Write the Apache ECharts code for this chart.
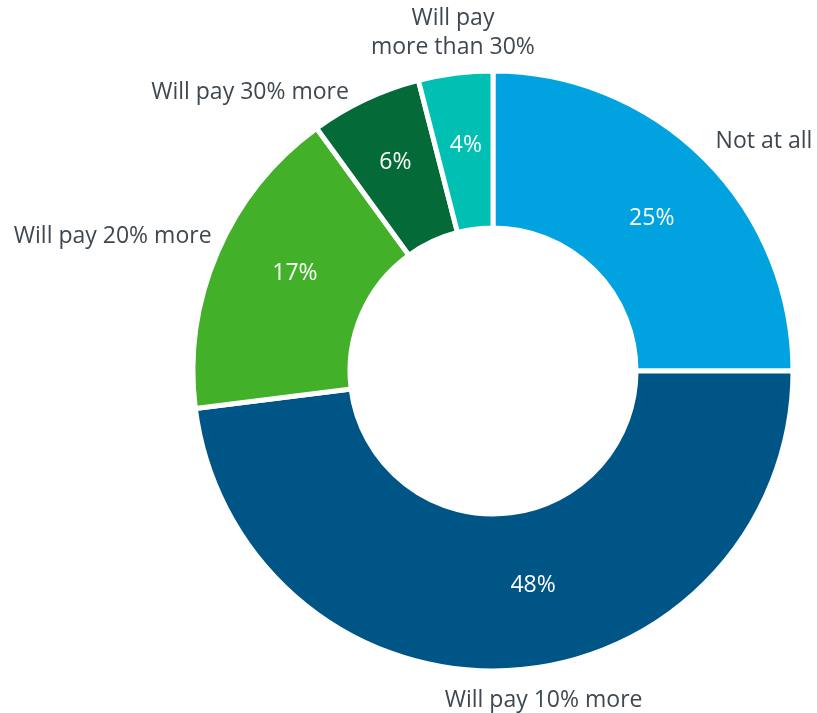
<!DOCTYPE html>
<html>
<head>
<meta charset="utf-8">
<script src="https://cdn.jsdelivr.net/npm/echarts@6/dist/echarts.min.js"></script>
<style>
html,body{margin:0;padding:0;background:#fff;}
#chart{width:817px;height:713px;}
</style>
</head>
<body>
<div id="chart"></div>
<script>
const categories = ['Not at all', 'Will pay 10% more', 'Will pay 20% more', 'Will pay 30% more', 'Will pay\nmore than 30%'];
const values = [25, 48, 17, 6, 4];
const colors = ['#00A3E0', '#005587', '#43B02A', '#046A38', '#00BFB3'];

// label nudges (layout only, in px)
const innerNudge = [[0, 6], [26, -10], [8, -8], [-2, -5], [1, -3]];
const outerNudge = [
  {dx: -3, dy: -9},
  {dx: 26, dy: 18, align: 'center'},
  {dx: 5, dy: -11},
  {dx: 23, dy: -15},
  {dx: 4, dy: -29, align: 'center'}
];

const chart = echarts.init(document.getElementById('chart'), null, {renderer: 'canvas'});
const data = categories.map((c, i) => ({name: c, value: values[i], itemStyle: {color: colors[i]}}));
const ghost = categories.map((c, i) => ({name: c, value: values[i]}));
const font = '"Open Sans", sans-serif';

chart.setOption({
  animation: false,
  series: [
    {
      type: 'pie',
      center: [493, 371],
      radius: [143, 300],
      startAngle: 90,
      clockwise: true,
      itemStyle: {borderColor: '#ffffff', borderWidth: 5},
      label: {
        show: true,
        position: 'inside',
        formatter: '{c}%',
        color: '#ffffff',
        fontFamily: font,
        fontSize: 23
      },
      labelLine: {show: false},
      labelLayout: function (p) {
        const n = innerNudge[p.dataIndex];
        return {dx: n[0], dy: n[1]};
      },
      emphasis: {disabled: true},
      data: data
    },
    {
      type: 'pie',
      center: [493, 371],
      radius: [143, 300],
      startAngle: 90,
      clockwise: true,
      silent: true,
      itemStyle: {color: 'rgba(0,0,0,0)', borderWidth: 0},
      label: {
        show: true,
        position: 'outside',
        formatter: '{b}',
        color: '#3f4850',
        fontFamily: font,
        fontSize: 23,
        lineHeight: 29,
        overflow: 'none',
        edgeDistance: 0
      },
      labelLine: {show: false, length: 12, length2: 0},
      labelLayout: function (p) {
        return Object.assign({}, outerNudge[p.dataIndex]);
      },
      emphasis: {disabled: true},
      data: ghost
    }
  ]
});
</script>
</body>
</html>
